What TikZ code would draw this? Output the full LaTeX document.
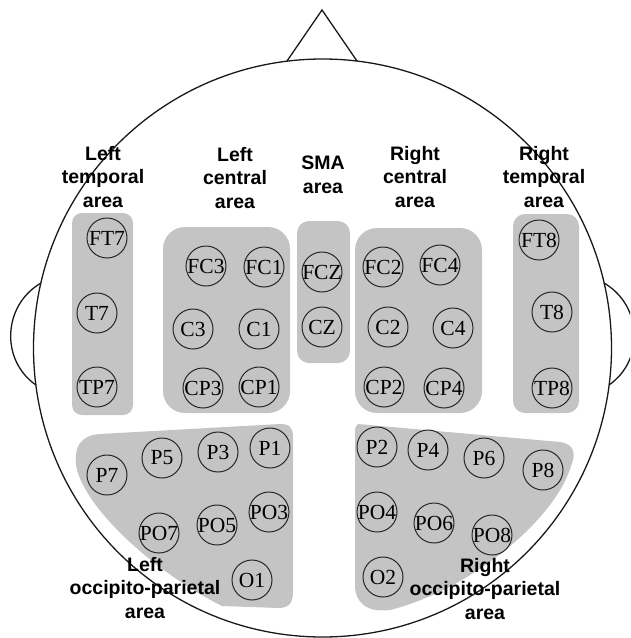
\documentclass[tikz,border=0pt]{standalone}
\usepackage{fontspec}
\setmainfont{Liberation Serif}
\newfontfamily\areaFont{Liberation Sans}
\definecolor{areaGray}{RGB}{196,196,196}

\tikzset{
	electrode/.style = {circle, draw = black!85, line width = 1pt, minimum size = 40pt, inner sep = 0pt, font = \fontsize{21.5}{23}\selectfont},
	areaLabel/.style = {align = center, inner sep = 0pt, font = \areaFont\bfseries\fontsize{19.5}{23.5}\selectfont}
}

\begin{document}
\begin{tikzpicture}[x = 1pt, y = -1pt]

	\clip (0, 0) rectangle (630, 638);

	% gray boxes for the upper areas
	\fill[areaGray, rounded corners = 10pt] (72, 213) rectangle (133, 415);
	\fill[areaGray, rounded corners = 22pt] (163, 227) rectangle (290, 413);
	\fill[areaGray, rounded corners = 12pt] (297, 221) rectangle (350, 363);
	\fill[areaGray, rounded corners = 22pt] (355, 228) rectangle (482, 413);
	\fill[areaGray, rounded corners = 12pt] (513, 214) rectangle (579, 413);

	% gray shapes for the occipito-parietal areas
	\fill[areaGray] (100, 434) -- (280, 424) .. controls (290, 424) and (293, 428) .. (293, 437) -- (293, 592) .. controls (293, 604) and (288, 608) .. (278, 608) -- (222, 606) .. controls (160, 575) and (90, 515) .. (77, 470) .. controls (72, 446) and (82, 435) .. (100, 434) -- cycle;
	\fill[areaGray] (358, 424) -- (560, 442) .. controls (575, 444) and (576, 455) .. (571, 466) .. controls (555, 520) and (470, 590) .. (390, 610) .. controls (366, 613) and (355, 602) .. (355, 585) -- (355, 428) -- cycle;

	% head outline with nose and ears
	\def\headRadius{289}
	\coordinate (headCenter) at (322.5, 348);
	\draw[color = black!90, line width = 1.3pt] (headCenter) circle (\headRadius);
	\draw[color = black!90, line width = 1.3pt] (287, 61) -- (322, 10) -- (357, 61);
	\draw[color = black!90, line width = 1.3pt] (41, 283) .. controls (3, 305) and (0, 360) .. (36, 385);
	\draw[color = black!90, line width = 1.3pt] (604, 283) .. controls (642, 305) and (645, 360) .. (609, 385);

	% left temporal area
	\node[electrode] (FT7) at (107, 238) {\makebox[0pt]{FT7}};
	\node[electrode] (T7) at (97, 313) {\makebox[0pt]{T7}};
	\node[electrode] (TP7) at (97, 387) {\makebox[0pt]{TP7}};

	% left central area
	\node[electrode] (FC3) at (206, 266) {\makebox[0pt]{FC3}};
	\node[electrode] (FC1) at (264, 267) {\makebox[0pt]{FC1}};
	\node[electrode] (C3) at (193, 329) {\makebox[0pt]{C3}};
	\node[electrode] (C1) at (259, 329) {\makebox[0pt]{C1}};
	\node[electrode] (CP3) at (203, 388) {\makebox[0pt]{CP3}};
	\node[electrode] (CP1) at (259, 387) {\makebox[0pt]{CP1}};

	% SMA area
	\node[electrode] (FCZ) at (322, 272) {\makebox[0pt]{FCZ}};
	\node[electrode] (CZ) at (322, 327) {\makebox[0pt]{CZ}};

	% right central area
	\node[electrode] (FC2) at (383, 267) {\makebox[0pt]{FC2}};
	\node[electrode] (FC4) at (440, 265) {\makebox[0pt]{FC4}};
	\node[electrode] (C2) at (388, 327) {\makebox[0pt]{C2}};
	\node[electrode] (C4) at (453, 328) {\makebox[0pt]{C4}};
	\node[electrode] (CP2) at (384, 387) {\makebox[0pt]{CP2}};
	\node[electrode] (CP4) at (444, 388) {\makebox[0pt]{CP4}};

	% right temporal area
	\node[electrode] (FT8) at (539, 240) {\makebox[0pt]{FT8}};
	\node[electrode] (T8) at (552, 312) {\makebox[0pt]{T8}};
	\node[electrode] (TP8) at (552, 388) {\makebox[0pt]{TP8}};

	% left occipito-parietal area
	\node[electrode] (P7) at (107, 475) {\makebox[0pt]{P7}};
	\node[electrode] (P5) at (162, 458) {\makebox[0pt]{P5}};
	\node[electrode] (P3) at (218, 452) {\makebox[0pt]{P3}};
	\node[electrode] (P1) at (270, 448) {\makebox[0pt]{P1}};
	\node[electrode] (PO7) at (159, 533) {\makebox[0pt]{PO7}};
	\node[electrode] (PO5) at (217, 525) {\makebox[0pt]{PO5}};
	\node[electrode] (PO3) at (269, 512) {\makebox[0pt]{PO3}};
	\node[electrode] (O1) at (252, 580) {\makebox[0pt]{O1}};

	% right occipito-parietal area
	\node[electrode] (P2) at (377, 447) {\makebox[0pt]{P2}};
	\node[electrode] (P4) at (428, 450) {\makebox[0pt]{P4}};
	\node[electrode] (P6) at (484, 458) {\makebox[0pt]{P6}};
	\node[electrode] (P8) at (543, 470) {\makebox[0pt]{P8}};
	\node[electrode] (PO4) at (377, 512) {\makebox[0pt]{PO4}};
	\node[electrode] (PO6) at (434, 523) {\makebox[0pt]{PO6}};
	\node[electrode] (PO8) at (492, 535) {\makebox[0pt]{PO8}};
	\node[electrode] (O2) at (383, 577) {\makebox[0pt]{O2}};

	% area names
	\node[areaLabel] (leftTemporalLabel) at (103, 177) {Left\\temporal\\area};
	\node[areaLabel] (leftCentralLabel) at (235, 178) {Left\\central\\area};
	\node[areaLabel] (smaLabel) at (323, 175) {SMA\\area};
	\node[areaLabel] (rightCentralLabel) at (415, 177) {Right\\central\\area};
	\node[areaLabel] (rightTemporalLabel) at (544, 177) {Right\\temporal\\area};
	\node[areaLabel] (leftOccipitalLabel) at (145, 588) {Left\\occipito-parietal\\area};
	\node[areaLabel] (rightOccipitalLabel) at (485, 589) {Right\\occipito-parietal\\area};

\end{tikzpicture}
\end{document}
